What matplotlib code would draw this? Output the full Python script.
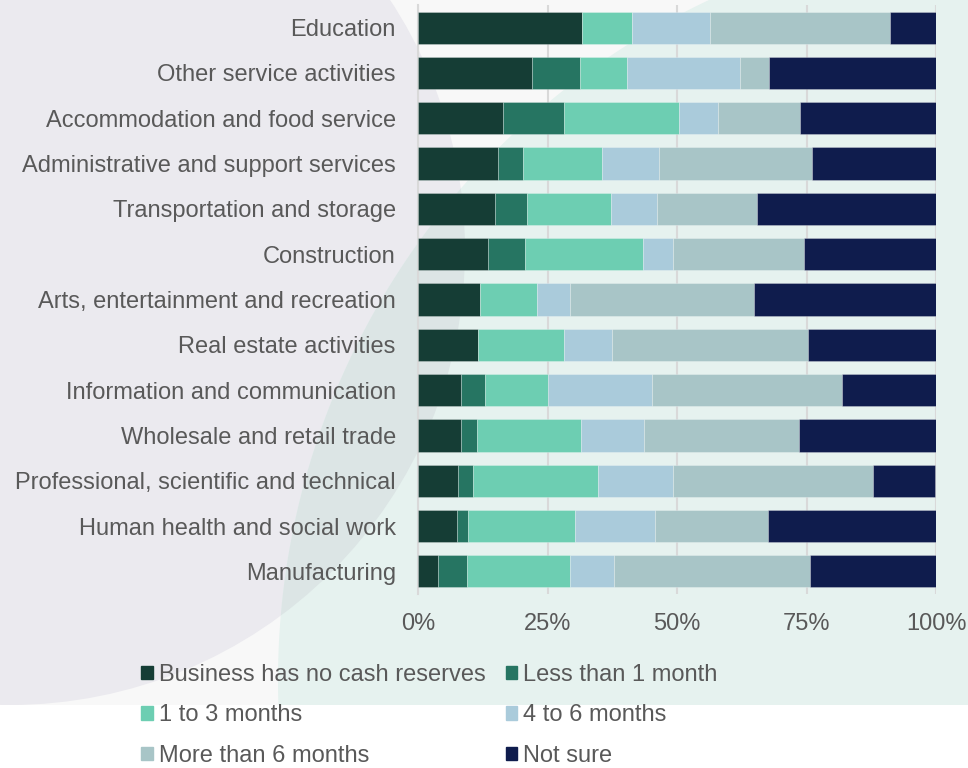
import numpy as np
import matplotlib.pyplot as plt
from matplotlib.patches import Rectangle, Circle, Polygon, Patch

plt.rcParams['font.family'] = ['Liberation Sans', 'DejaVu Sans']

sectors = [
    "Education",
    "Other service activities",
    "Accommodation and food service",
    "Administrative and support services",
    "Transportation and storage",
    "Construction",
    "Arts, entertainment and recreation",
    "Real estate activities",
    "Information and communication",
    "Wholesale and retail trade",
    "Professional, scientific and technical",
    "Human health and social work",
    "Manufacturing",
]

series_names = [
    "Business has no cash reserves",
    "Less than 1 month",
    "1 to 3 months",
    "4 to 6 months",
    "More than 6 months",
    "Not sure",
]

# share of businesses (%) per sector, one list per reserve band
no_reserves = [31.6, 22.0, 16.4, 15.4, 14.8, 13.6, 12.0, 11.6, 8.3, 8.3, 7.8, 7.6, 3.9]
under_1m = [0.0, 9.2, 11.7, 4.9, 6.3, 7.0, 0.0, 0.0, 4.6, 3.1, 2.8, 2.0, 5.5]
m1_to_3 = [9.7, 9.2, 22.2, 15.2, 16.1, 22.8, 11.0, 16.6, 12.2, 20.1, 24.2, 20.8, 19.9]
m4_to_6 = [15.0, 21.8, 7.7, 11.0, 8.9, 5.9, 6.3, 9.2, 20.0, 12.1, 14.5, 15.3, 8.5]
over_6m = [34.8, 5.5, 15.8, 29.5, 19.4, 25.2, 35.5, 37.8, 36.7, 29.9, 38.5, 21.9, 37.8]
not_sure = [8.9, 32.3, 26.2, 24.0, 34.5, 25.5, 35.3, 24.8, 18.2, 26.6, 12.1, 32.4, 24.4]

colors = ['#153d35', '#267562', '#6dceb2', '#aacbdb', '#a8c5c7', '#0f1c4d']
text_color = '#595959'

fig = plt.figure(figsize=(9.68, 7.68), dpi=100, facecolor='white')

# decorative backdrop: pale panel, lavender disc and green sweep
bg = fig.add_axes([0, 0, 1, 1], zorder=-1)
bg.set_xlim(0, 968)
bg.set_ylim(768, 0)
bg.axis('off')
bg.add_patch(Rectangle((0, 0), 968, 705, color='#f8f8f8', lw=0))
bg.add_patch(Circle((10, 250), 455, color='#ebeaef', lw=0))

cx, cy, r = 1030, 680, 752
ys = np.linspace(0, 705, 200)
xs = cx - np.sqrt(r**2 - (ys - cy)**2)
edge = np.column_stack([xs, ys])
sweep = Polygon(np.vstack([edge, [[968, 705], [968, 0]]]), closed=True, color='#e6f2ef', lw=0)
bg.add_patch(sweep)
overlap = Circle((10, 250), 455, color='#dce5e5', lw=0)
bg.add_patch(overlap)
overlap.set_clip_path(sweep)

# stacked bars
ax = fig.add_axes([418 / 968, 1 - 594 / 768, 518 / 968, 589 / 768])
ax.set_facecolor('none')
y = np.arange(len(sectors))
left = np.zeros(len(sectors))
for name, vals, c in zip(series_names,
                         [no_reserves, under_1m, m1_to_3, m4_to_6, over_6m, not_sure],
                         colors):
    ax.barh(y, vals, left=left, height=0.71, color=c, label=name,
            edgecolor=(1, 1, 1, 0.3), linewidth=0.6, zorder=3)
    left += np.array(vals)

ax.set_xlim(0, 100)
ax.set_ylim(len(sectors) - 0.5, -0.5)
ax.set_xticks([0, 25, 50, 75, 100])
ax.set_xticklabels(['0%', '25%', '50%', '75%', '100%'])
ax.set_yticks(y)
ax.set_yticklabels(sectors)
ax.tick_params(axis='both', length=0, labelsize=17, labelcolor=text_color)
ax.tick_params(axis='y', pad=16)
ax.tick_params(axis='x', pad=14)
ax.grid(axis='x', color='#d9d9d9', linewidth=1.5, zorder=0)
for s in ['top', 'right', 'bottom']:
    ax.spines[s].set_visible(False)
ax.spines['left'].set_color('#d9d9d9')
ax.spines['left'].set_linewidth(1.5)

# legend laid out row by row in two columns
handles = [Patch(color=c) for c in colors]
order = [0, 2, 4, 1, 3, 5]
fig.legend([handles[i] for i in order], [series_names[i] for i in order],
           ncol=2, loc='upper left', bbox_to_anchor=(141 / 968, 1 - 664 / 768),
           frameon=False, fontsize=17, labelcolor=text_color,
           handlelength=0.5, handleheight=0.5, handletextpad=0.25,
           columnspacing=0.85, labelspacing=0.78, borderpad=0, borderaxespad=0)

fig.savefig('out.png', dpi=100, facecolor='white')
